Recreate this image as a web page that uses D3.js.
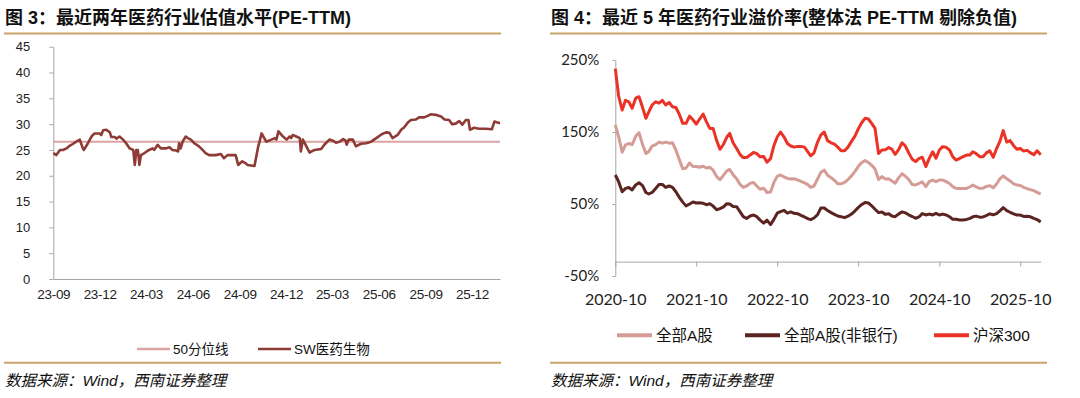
<!DOCTYPE html>
<html><head><meta charset="utf-8">
<script src="https://cdn.jsdelivr.net/npm/d3@7"></script>
<style>body{margin:0;background:#fff}svg{display:block}</style>
</head><body><svg id="c" width="1080" height="398"></svg>
<script>
// ---------- Figure 3 data: SW 医药生物 PE-TTM ----------
const peSeries = [
["2023-09-01",24.4],["2023-09-07",24.0],["2023-09-14",25.0],["2023-09-20",25.0],["2023-09-27",25.3],["2023-10-03",25.8],["2023-10-10",26.2],["2023-10-16",26.6],["2023-10-23",27.0],["2023-10-29",25.3],["2023-10-31",25.0],["2023-11-08",26.3],["2023-11-15",27.6],["2023-11-21",28.2],["2023-12-01",28.2],["2023-12-04",27.9],["2023-12-08",28.8],["2023-12-14",28.9],["2023-12-21",28.4],["2023-12-24",27.5],["2023-12-31",27.5],["2024-01-03",27.2],["2024-01-09",27.6],["2024-01-16",27.0],["2024-01-22",26.3],["2024-01-29",25.3],["2024-02-05",25.0],["2024-02-08",22.1],["2024-02-11",25.0],["2024-02-14",25.0],["2024-02-17",22.1],["2024-02-20",24.0],["2024-02-27",24.4],["2024-03-07",25.0],["2024-03-14",25.3],["2024-03-17",25.0],["2024-03-24",26.0],["2024-03-30",25.3],["2024-04-09",25.3],["2024-04-16",25.5],["2024-04-22",25.0],["2024-04-29",24.9],["2024-05-03",24.7],["2024-05-05",26.3],["2024-05-08",25.3],["2024-05-12",26.6],["2024-05-18",27.6],["2024-05-22",27.3],["2024-05-28",27.0],["2024-06-04",26.3],["2024-06-13",25.7],["2024-06-20",25.0],["2024-06-26",24.4],["2024-07-03",24.0],["2024-07-16",24.0],["2024-07-26",24.2],["2024-08-01",23.4],["2024-08-08",24.0],["2024-08-18",24.0],["2024-08-24",24.0],["2024-08-29",22.1],["2024-09-06",22.8],["2024-09-13",22.4],["2024-09-16",22.1],["2024-09-30",21.9],["2024-10-07",25.5],["2024-10-14",28.2],["2024-10-23",26.6],["2024-11-02",27.0],["2024-11-09",27.3],["2024-11-12",27.0],["2024-11-16",28.6],["2024-11-25",27.6],["2024-12-02",27.0],["2024-12-08",27.6],["2024-12-11",27.3],["2024-12-14",27.9],["2024-12-21",27.6],["2024-12-28",27.3],["2024-12-30",24.7],["2025-01-03",27.0],["2025-01-10",25.7],["2025-01-16",24.5],["2025-01-26",25.0],["2025-02-08",25.2],["2025-02-14",26.0],["2025-02-24",27.0],["2025-03-03",26.8],["2025-03-09",26.4],["2025-03-16",26.6],["2025-03-23",27.1],["2025-03-28",26.8],["2025-03-30",26.0],["2025-04-03",27.0],["2025-04-11",27.0],["2025-04-17",25.7],["2025-04-27",26.2],["2025-05-07",26.3],["2025-05-17",26.6],["2025-05-27",27.3],["2025-06-06",28.0],["2025-06-15",28.4],["2025-06-22",28.3],["2025-06-28",27.3],["2025-07-08",27.9],["2025-07-15",28.9],["2025-07-21",29.4],["2025-07-28",30.3],["2025-08-03",30.8],["2025-08-13",30.9],["2025-08-19",31.3],["2025-08-29",31.3],["2025-09-05",31.6],["2025-09-11",31.9],["2025-09-21",31.8],["2025-10-01",31.5],["2025-10-08",30.9],["2025-10-17",30.8],["2025-10-23",30.0],["2025-10-30",30.1],["2025-11-06",30.6],["2025-11-12",29.9],["2025-11-19",30.8],["2025-11-24",30.8],["2025-11-27",28.9],["2025-12-05",29.3],["2025-12-15",29.1],["2025-12-28",29.1],["2026-01-09",29.0],["2026-01-14",30.5],["2026-01-20",30.3],["2026-01-25",30.2]
];
const peMedian = 26.6;
const peYTicks = [0,5,10,15,20,25,30,35,40,45];
const peXTicks = ["2023-09","2023-12","2024-03","2024-06","2024-09","2024-12","2025-03","2025-06","2025-09","2025-12"];
const peDomain = ["2023-09-01","2026-01-25"];
const peLegend = ["50分位线","SW医药生物"];

// ---------- Figure 4 data: premium rates (half-month samples) ----------
const premStart = "2020-10-01";
const premEnd = "2026-01-01";
const premAllA = [
159.7,143.5,122,132,134,132.5,144,149,132.5,120,
123,130.5,132.5,136,134.5,136,134.5,135,125,112,
99,100,107,102,102,101,102.5,100,101,97,
88,83.7,90,96,98,90.6,85,77.5,73,75,
78.7,80,75,70.5,72,66,66.7,80,88.4,90.3,
87.5,85.6,84.7,85.1,83.4,81.4,79.4,77,73,75,
85,94,97,90,86.5,83,78,78,80,84,
89,95,102,107.4,110.5,107.7,103.7,98.5,84,88,
84.7,85,82,79,86.6,92,88.6,84,77,76.4,
78.5,80.8,74,81,83.3,81,83.3,83.3,81,78.5,
74,71.7,71.7,71.7,71.7,74,76.2,73.7,71.7,72,
74.4,75.5,72.6,77.7,85,89,85,82,78,76.4,
75.7,73.2,71.3,70,68.5,66.2,63.7];
const premExBank = [
90.3,81,67,71.7,73,69.5,76.5,79.5,75.5,66,
63.9,66,71.5,77,77.2,73,75,73,67,59.6,
52.6,47.4,50,52.7,51.4,51.6,51,49,50.5,47,
42,43.7,46,50.5,50,46.6,46.3,39.5,32.5,30,
33.3,34.7,32.4,27.6,23.3,27.5,21.3,28.6,37.2,39.5,
41.2,37.2,39,37,36.6,34.3,32,29.6,28.3,30.6,
35.3,44.6,44.4,41,38,35.6,33.3,32.4,31,33,
36,40.2,45,49,52.2,51.5,47.5,42.7,38,38.8,
35.6,36.5,33.3,32.4,36.3,39,37.6,35,32.6,30.2,
32,36.7,34.8,36,34.8,37,34.7,36,34.7,32.3,
28.7,28.7,27.8,27.8,28.6,30,32.2,33.2,31.7,32,
34,36.3,35,36.6,40.4,45,40.8,38.5,36.2,34.7,
34.7,32.7,33,32.2,30,28.3,25.2];
const premHS300 = [
238,200,180.5,194,192,183,197,199,184,169,
178,187.5,192,190,194,187.5,191,185,184,175,
162,162,172,167,161,168,175,164,155,155,
138,126,133,143,148,135,127,119,114.5,114.5,
118,121.5,120,115.5,116,108,113,131,143,150,
143,134,130.5,129,130,130,129,122.5,117,121,
136,146,150,138,135,133,129,124,124,129,
137,144,154,162.5,169,168,162,155,120,125,
125.5,128.5,126,119,126,135,130.5,121,112,109,
113,115,102,113,122.5,113.5,125,129.6,128.7,125,
115.5,111,113.4,115.7,118,118,122.5,120,115.7,115.7,
121,124,115,127,137,152,136,138,131,126,
127,123.5,124.5,121,118.5,124,118.5];
const premYTicks = [-50,50,150,250];
const premXTicks = ["2020-10","2021-10","2022-10","2023-10","2024-10","2025-10"];
const premAxisCross = -30;
const premNames = ["全部A股","全部A股(非银行)","沪深300"];

// ---------- drawing ----------
const svg = d3.select("#c");
const parseDay = d3.timeParse("%Y-%m-%d");
const parseMonth = d3.timeParse("%Y-%m");
const LAT = "'Liberation Sans', Arial, 'Noto Sans CJK SC', sans-serif";
const GOLD = "#c9a46b";
const AXIS = "#a6a6a6";

// frame: titles and rules
function frame(x0, x1, title) {
  svg.append("text").attr("x", x0 + 1).attr("y", 24).attr("font-family", LAT)
    .attr("font-size", 18).attr("font-weight", "bold").attr("fill", "#111").text(title);
  svg.append("line").attr("x1", x0).attr("x2", x1).attr("y1", 33.5).attr("y2", 33.5)
    .attr("stroke", GOLD).attr("stroke-width", 2);
  svg.append("line").attr("x1", x0).attr("x2", x1).attr("y1", 362.8).attr("y2", 362.8)
    .attr("stroke", GOLD).attr("stroke-width", 2);
  svg.append("text").attr("x", x0 + 1).attr("y", 386).attr("font-family", LAT)
    .attr("font-size", 15.5).attr("font-style", "italic").attr("fill", "#111").text("数据来源：Wind，西南证券整理");
}
frame(4, 501, "图 3：最近两年医药行业估值水平(PE-TTM)");
frame(550, 1047, "图 4：最近 5 年医药行业溢价率(整体法 PE-TTM 剔除负值)");

// ----- left chart -----
const xL = d3.scaleTime().domain(peDomain.map(parseDay)).range([53.3, 500]);
const yL = d3.scaleLinear().domain([0, 45]).range([279, 46.7]);

const gyL = svg.append("g").attr("transform", "translate(53.3,0)")
  .call(d3.axisLeft(yL).tickValues(peYTicks).tickSize(4).tickSizeOuter(0).tickPadding(19));
const gxL = svg.append("g").attr("transform", "translate(0,279)")
  .call(d3.axisBottom(xL).tickValues(peXTicks.map(parseMonth)).tickFormat(d3.timeFormat("%y-%m")).tickSize(0).tickSizeOuter(0));
[gyL, gxL].forEach(g => {
  g.selectAll("path,line").attr("stroke", AXIS).attr("stroke-width", 1);
  g.selectAll("text").attr("font-family", LAT).attr("fill", "#222");
});
gyL.selectAll("text").attr("font-size", 13);
gxL.selectAll("text").attr("font-size", 13.5).attr("letter-spacing", -0.3).attr("y", 20.3).attr("dy", 0);

svg.append("line").attr("x1", xL.range()[0]).attr("x2", xL.range()[1])
  .attr("y1", yL(peMedian)).attr("y2", yL(peMedian))
  .attr("stroke", "#dca3a3").attr("stroke-width", 2);
svg.append("path").datum(peSeries)
  .attr("d", d3.line().x(d => xL(parseDay(d[0]))).y(d => yL(d[1])))
  .attr("fill", "none").attr("stroke", "#8e3b36").attr("stroke-width", 2.6)
  .attr("stroke-linejoin", "round");

// left legend
const legL = [{x: 137, c: "#dca3a3"}, {x: 258, c: "#8e3b36"}];
legL.forEach((l, i) => {
  svg.append("line").attr("x1", l.x).attr("x2", l.x + 33).attr("y1", 349).attr("y2", 349)
    .attr("stroke", l.c).attr("stroke-width", 2.6);
  svg.append("text").attr("x", l.x + 36).attr("y", 354).attr("font-family", LAT)
    .attr("font-size", 13.5).attr("fill", "#111").text(peLegend[i]);
});

// ----- right chart -----
const FR = "Lato, 'Liberation Sans', sans-serif";
const x0 = parseDay(premStart);
const premDates = d3.range(premHS300.length).map(k => d3.timeMonth.offset(x0, Math.floor(k / 2)))
  .map((d, k) => k % 2 ? d3.timeDay.offset(d, 15) : d);
const xR = d3.scaleTime().domain([x0, parseDay(premEnd)]).range([615.3, 1040.7]);
const yR = d3.scaleLinear().domain([-50, 250]).range([276, 60]);

const gyR = svg.append("g").attr("transform", "translate(615.3,0)")
  .call(d3.axisLeft(yR).tickValues(premYTicks).tickFormat(d => d + "%").tickSize(3).tickSizeOuter(0).tickPadding(13));
const gxR = svg.append("g").attr("transform", `translate(0,${yR(premAxisCross)})`)
  .call(d3.axisBottom(xR).tickValues(premXTicks.map(parseMonth)).tickFormat(d3.timeFormat("%Y-%m")).tickSize(5).tickSizeOuter(0));
[gyR, gxR].forEach(g => {
  g.selectAll("path,line").attr("stroke", AXIS).attr("stroke-width", 1);
  g.selectAll("text").attr("font-family", FR).attr("fill", "#222");
});
gyR.selectAll("text").attr("font-size", 15);
gxR.selectAll("text").attr("font-size", 16).attr("y", 305 - yR(premAxisCross)).attr("dy", 0);

const premSeries = [
  {v: premAllA, c: "#d49c95"},
  {v: premExBank, c: "#5b2420"},
  {v: premHS300, c: "#ea3326"}
];
const lineR = d3.line().x((d, i) => xR(premDates[i])).y(d => yR(d));
premSeries.forEach(s => {
  svg.append("path").datum(s.v).attr("d", lineR)
    .attr("fill", "none").attr("stroke", s.c).attr("stroke-width", 3)
    .attr("stroke-linejoin", "round");
});

// right legend
const legR = [617, 745, 934];
premSeries.forEach((s, i) => {
  svg.append("line").attr("x1", legR[i]).attr("x2", legR[i] + 35).attr("y1", 335.3).attr("y2", 335.3)
    .attr("stroke", s.c).attr("stroke-width", 4);
  svg.append("text").attr("x", legR[i] + 39).attr("y", 341).attr("font-family", LAT)
    .attr("font-size", 15.5).attr("fill", "#111").text(premNames[i]);
});
</script>
</body></html>
